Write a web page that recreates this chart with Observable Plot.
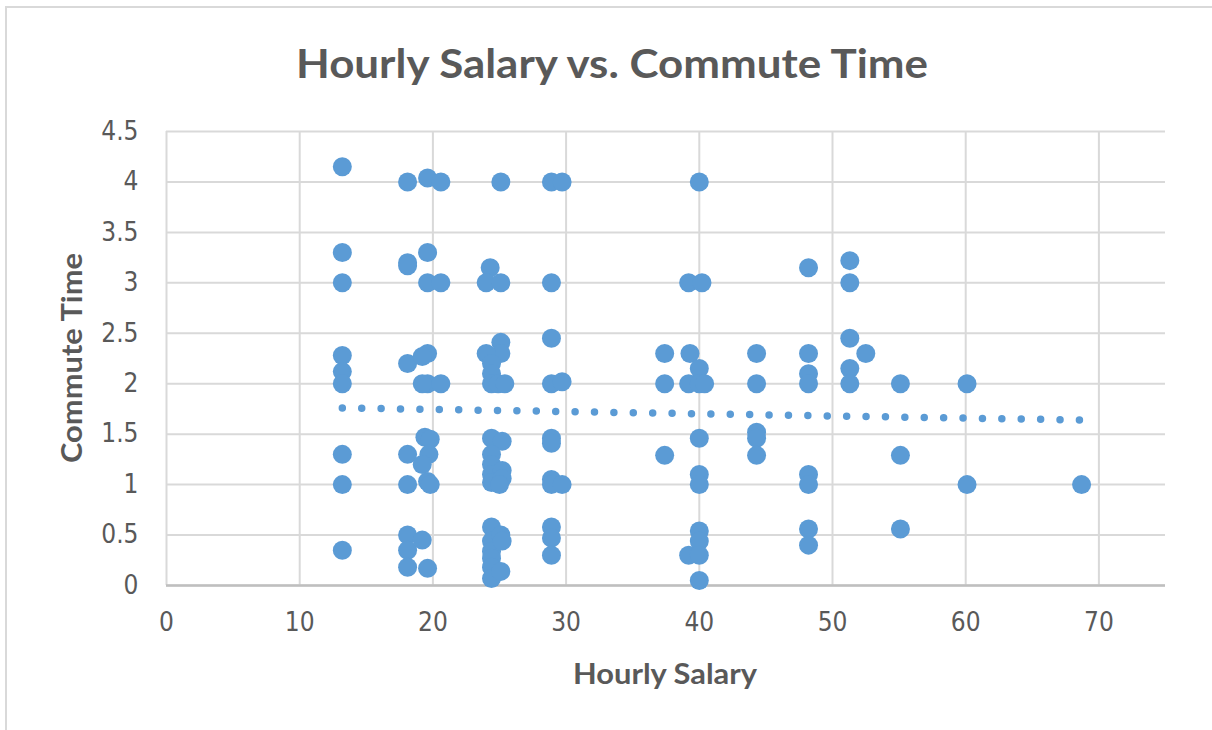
<!DOCTYPE html>
<html>
<head>
<meta charset="utf-8">
<script src="https://cdn.jsdelivr.net/npm/d3@7"></script>
<script src="https://cdn.jsdelivr.net/npm/@observablehq/plot@0.6"></script>
<style>
  html, body { margin: 0; padding: 0; background: #fff; }
  #wrap { position: relative; width: 1212px; height: 730px; overflow: hidden; background: #fff; }
  #frame { position: absolute; left: 5px; top: 6px; width: 1300px; height: 800px;
           border-top: 2px solid #d9d9d9; border-left: 2px solid #d9d9d9; box-sizing: border-box; }
  #chart { position: absolute; left: 0; top: 0; }
</style>
</head>
<body>
<div id="wrap"><div id="frame"></div><div id="chart"></div></div>
<script>
// ---- data ----
const title = "Hourly Salary vs. Commute Time";
const xLabel = "Hourly Salary";
const yLabel = "Commute Time";
const xTicks = [0, 10, 20, 30, 40, 50, 60, 70];
const yTicks = [0, 0.5, 1, 1.5, 2, 2.5, 3, 3.5, 4, 4.5];

const salary = [
  13.2, 13.2, 13.2, 13.2, 13.2, 13.2, 13.2, 13.2, 13.2,
  18.1, 18.1, 18.1, 18.1, 18.1, 18.1, 18.1, 18.1, 18.1,
  19.6, 19.6, 19.6, 19.6, 19.2, 19.6, 19.2, 19.4, 19.8, 19.7, 19.2, 19.6, 19.8, 19.2, 19.6,
  20.6, 20.6, 20.6,
  25.1, 24.3, 24.0, 25.1, 25.1, 25.1, 24.0, 24.4, 24.4, 24.4, 24.9, 25.4,
  24.4, 25.2, 24.4, 24.4, 24.4, 24.4, 25.2, 25.2, 25.0,
  24.4, 24.4, 24.4, 24.4, 24.4, 24.4, 25.1, 25.2, 25.1,
  28.9, 28.9, 28.9, 28.9, 28.9, 28.9, 28.9, 28.9, 28.9, 28.9, 28.9,
  29.7, 29.7, 29.7,
  37.4, 37.4, 37.4,
  40.0, 39.2, 40.2, 39.3, 40.0, 39.2, 40.0, 40.4, 40.0, 40.0, 40.0, 40.0, 40.0, 39.2, 40.0, 40.0,
  44.3, 44.3, 44.3, 44.3, 44.3,
  48.2, 48.2, 48.2, 48.2, 48.2, 48.2, 48.2, 48.2,
  51.3, 51.3, 51.3, 51.3, 51.3, 52.5,
  55.1, 55.1, 55.1,
  60.1, 60.1,
  68.7
];
const commute = [
  4.15, 3.3, 3.0, 2.28, 2.12, 2.0, 1.3, 1.0, 0.35,
  4.0, 3.2, 3.17, 2.2, 1.3, 1.0, 0.5, 0.35, 0.18,
  4.04, 3.3, 3.0, 2.3, 2.27, 2.0, 2.0, 1.47, 1.45, 1.3, 1.2, 1.03, 1.0, 0.45, 0.17,
  4.0, 3.0, 2.0,
  4.0, 3.15, 3.0, 3.0, 2.41, 2.3, 2.3, 2.2, 2.1, 2.0, 2.0, 2.0,
  1.46, 1.43, 1.3, 1.2, 1.1, 1.02, 1.14, 1.06, 1.0,
  0.58, 0.44, 0.34, 0.27, 0.18, 0.07, 0.5, 0.44, 0.14,
  4.0, 3.0, 2.45, 2.0, 1.46, 1.41, 1.05, 1.0, 0.58, 0.47, 0.3,
  4.0, 2.02, 1.0,
  2.3, 2.0, 1.29,
  4.0, 3.0, 3.0, 2.3, 2.15, 2.0, 2.0, 2.0, 1.46, 1.1, 1.0, 0.54, 0.44, 0.3, 0.3, 0.05,
  2.3, 2.0, 1.52, 1.46, 1.29,
  3.15, 2.3, 2.1, 2.0, 1.1, 1.0, 0.56, 0.4,
  3.22, 3.0, 2.45, 2.15, 2.0, 2.3,
  2.0, 1.29, 0.56,
  2.0, 1.0,
  1.0
];
// linear trendline end points
const trendX = [13.2, 68.7];
const trendY = [1.76, 1.64];

const points = salary.map((s, i) => ({salary: s, commute: commute[i]}));
const trend = trendX.map((x, i) => ({x, y: trendY[i]}));

const TICKFONT = "'Liberation Sans Narrow', 'DejaVu Sans Condensed', Lato, sans-serif";
const BOLDFONT = "Lato, 'Open Sans', sans-serif";
const TEXT = "#595959";
const BLUE = "#5B9BD5";
const GRID = "#d9d9d9";

const chart = Plot.plot({
  width: 1212,
  height: 730,
  marginLeft: 166,
  marginRight: 47,
  marginTop: 131,
  marginBottom: 145,
  style: {fontFamily: TICKFONT, fontSize: "26px", color: TEXT, background: "transparent", overflow: "visible"},
  x: {domain: [0, 75], label: null},
  y: {domain: [0, 4.5], label: null},
  marks: [
    Plot.gridX(xTicks, {stroke: GRID, strokeOpacity: 1, strokeWidth: 2}),
    Plot.gridY(yTicks, {stroke: GRID, strokeOpacity: 1, strokeWidth: 2}),
    Plot.ruleY([0], {stroke: "#bfbfbf", strokeWidth: 2.5}),
    Plot.axisX(xTicks, {tickSize: 0, tickPadding: 27, label: null, fill: TEXT, fontSize: 26}),
    Plot.axisY(yTicks, {tickSize: 0, tickPadding: 28, label: null, fill: TEXT, fontSize: 26, tickFormat: d => String(d)}),
    Plot.dot(points, {x: "salary", y: "commute", r: 9.5, fill: BLUE}),
    Plot.line(trend, {x: "x", y: "y", stroke: BLUE, strokeWidth: 7.5, strokeLinecap: "round",
                      strokeDasharray: "0 19.4"})
  ]
});
document.getElementById("chart").appendChild(chart);

const svg = d3.select(chart);
svg.append("text")
  .attr("x", 612).attr("y", 78)
  .attr("text-anchor", "middle")
  .attr("font-family", BOLDFONT).attr("font-weight", "bold").attr("font-size", 41)
  .attr("fill", TEXT)
  .attr("textLength", 632).attr("lengthAdjust", "spacingAndGlyphs")
  .text(title);
svg.append("text")
  .attr("x", 665).attr("y", 684)
  .attr("text-anchor", "middle")
  .attr("font-family", BOLDFONT).attr("font-weight", "bold").attr("font-size", 29)
  .attr("fill", TEXT)
  .attr("textLength", 184).attr("lengthAdjust", "spacingAndGlyphs")
  .text(xLabel);
svg.append("text")
  .attr("transform", "translate(82,358) rotate(-90)")
  .attr("text-anchor", "middle")
  .attr("font-family", BOLDFONT).attr("font-weight", "bold").attr("font-size", 29)
  .attr("fill", TEXT)
  .attr("textLength", 210).attr("lengthAdjust", "spacingAndGlyphs")
  .text(yLabel);
</script>
</body>
</html>
